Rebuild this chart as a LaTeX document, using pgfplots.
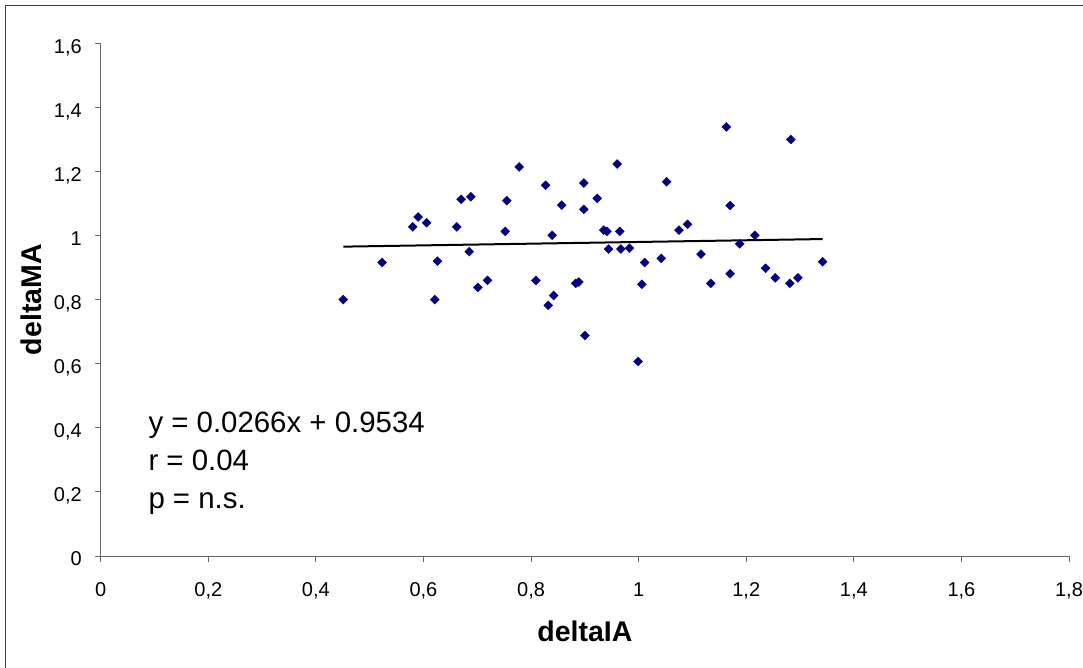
\documentclass[border=0pt]{standalone}
\usepackage{fontspec}
\setmainfont{Liberation Sans}
\usepackage{pgfplots}
\pgfplotsset{compat=1.18}
\usepackage{pgfplotstable}
\definecolor{navy}{RGB}{0,0,128}
\pgfplotstableread{
x y
0.451 0.800
0.523 0.916
0.580 1.027
0.590 1.058
0.606 1.040
0.621 0.800
0.626 0.920
0.662 1.027
0.670 1.113
0.688 1.121
0.685 0.950
0.701 0.838
0.719 0.860
0.752 1.013
0.755 1.109
0.778 1.214
0.809 0.860
0.827 1.157
0.832 0.782
0.842 0.813
0.839 1.001
0.857 1.095
0.883 0.851
0.889 0.855
0.898 1.164
0.898 1.082
0.900 0.688
0.923 1.116
0.935 1.017
0.941 1.013
0.944 0.958
0.960 1.223
0.965 1.013
0.967 0.958
0.983 0.961
0.999 0.607
1.006 0.848
1.011 0.916
1.042 0.929
1.052 1.168
1.075 1.017
1.091 1.035
1.116 0.942
1.134 0.851
1.163 1.339
1.170 1.094
1.170 0.881
1.188 0.974
1.216 1.001
1.236 0.898
1.254 0.868
1.281 0.851
1.283 1.300
1.296 0.868
1.342 0.918
}\scatterdata
\begin{document}
\begin{tikzpicture}
\useasboundingbox (-100.7bp,-112bp) rectangle (982.3bp,556bp);
\draw[black!75, line width=1.5bp] (-95bp,-115bp) -- (-95bp,550.3bp) -- (990bp,550.3bp);
\begin{axis}[
  at={(0,0)}, anchor=south west,
  scale only axis, width=968.3bp, height=512.7bp,
  xmin=0, xmax=1.8, ymin=0, ymax=1.6,
  axis lines=left,
  axis line style={-, draw=black!60, line width=1bp},
  tick align=outside,
  major tick length=5.7bp,
  tick style={draw=black!60, line width=1bp},
  xtick={0,0.2,0.4,0.6,0.8,1,1.2,1.4,1.6,1.8},
  ytick={0,0.2,0.4,0.6,0.8,1,1.2,1.4,1.6},
  /pgf/number format/.cd, use comma, fixed, precision=1, assume math mode=true,
  /pgfplots/.cd,
  xticklabel style={anchor=base, inner sep=0pt, yshift=-35bp, font=\fontsize{20bp}{24bp}\selectfont},
  yticklabel shift=13bp,
  yticklabel style={anchor=base east, inner sep=0pt, yshift=-9.8bp, font=\fontsize{20bp}{24bp}\selectfont},
  xlabel={deltaIA},
  ylabel={deltaMA},
  xlabel style={at={(axis description cs:0.5,0)}, anchor=base, yshift=-85.7bp, inner sep=0pt, font=\bfseries\fontsize{28.5bp}{32bp}\selectfont},
  ylabel style={at={(axis description cs:-0.0609,0.5)}, anchor=base, inner sep=0pt, font=\bfseries\fontsize{28.5bp}{32bp}\selectfont},
  clip=false,
]
\addplot[only marks, mark=square*, mark size=3.2bp, mark options={rotate=45, fill=navy, draw=navy, line width=0.3bp}] table[x=x,y=y] {\scatterdata};
\addplot[black, line width=2bp, no marks] coordinates {(0.451,0.9654) (1.342,0.9891)};
\end{axis}
\begin{scope}[font=\fontsize{29.4bp}{33bp}\selectfont]
\node[anchor=base west, inner sep=0pt] at (47.6bp,123.7bp) {y = 0.0266x + 0.9534};
\node[anchor=base west, inner sep=0pt] at (47.6bp,85.3bp) {r = 0.04};
\node[anchor=base west, inner sep=0pt] at (47.6bp,47bp) {p = n.s.};
\end{scope}
\end{tikzpicture}
\end{document}
